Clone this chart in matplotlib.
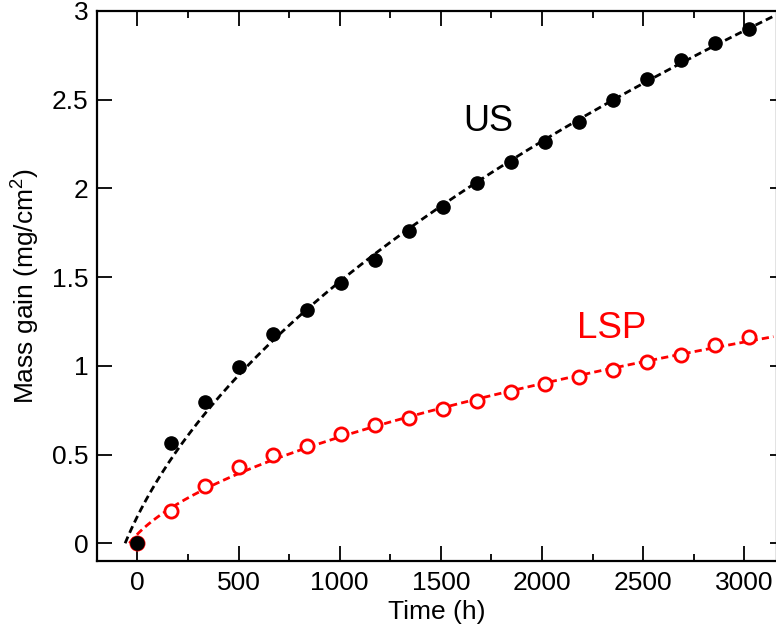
import numpy as np
import matplotlib
matplotlib.use("Agg")
import matplotlib.pyplot as plt
from matplotlib.ticker import MultipleLocator, FuncFormatter

plt.rcParams['font.family'] = ['Liberation Sans', 'DejaVu Sans']
plt.rcParams['mathtext.fontset'] = 'custom'
plt.rcParams['mathtext.rm'] = 'Liberation Sans'
plt.rcParams['mathtext.it'] = 'Liberation Sans:italic'

# ---- data ----
time_h = [0, 168, 336, 504, 672, 840, 1008, 1176, 1344, 1512, 1680,
          1848, 2016, 2184, 2352, 2520, 2688, 2856, 3024]
us_gain = [0.0, 0.564, 0.795, 0.993, 1.179, 1.314, 1.466, 1.596, 1.76, 1.895,
           2.03, 2.149, 2.262, 2.374, 2.499, 2.617, 2.724, 2.82, 2.899]
lsp_gain = [0.0, 0.18, 0.32, 0.43, 0.495, 0.55, 0.615, 0.665, 0.705, 0.755,
            0.80, 0.85, 0.895, 0.935, 0.975, 1.02, 1.06, 1.115, 1.16]
x_ticks = [0, 500, 1000, 1500, 2000, 2500, 3000]
y_ticks = [0, 0.5, 1, 1.5, 2, 2.5, 3]
labels = ["US", "LSP"]

t = np.array(time_h, float)
xlim = (-200, 3162)
ylim = (-0.1, 3.0)

fig = plt.figure(figsize=(7.76, 6.39), dpi=100)
ax = fig.add_axes([97/776, (639-561)/639, (777-97)/776, (561-11)/639])

def fit_curve(y):
    y = np.array(y, float)
    coef = np.polyfit(y, t, 2)  # t = a*y^2 + b*y + c
    yy = np.linspace(0, 3.2, 600)
    tt = np.polyval(coef, yy)
    m = (tt <= xlim[1]) & (tt >= coef[2])
    return tt[m], yy[m]

lw = 2.0
tu, yu = fit_curve(us_gain)
tl, yl = fit_curve(lsp_gain)
ax.plot(tu, yu, color='black', lw=lw, ls=(0, (2.6, 1.5)), zorder=2, clip_on=False)
ax.plot(tl, yl, color='#ff0000', lw=lw, ls=(0, (2.6, 1.5)), zorder=2, clip_on=False)

ax.plot(t, lsp_gain, 'o', ms=9.5, mfc='white', mec='#ff0000', mew=2.0, zorder=3, clip_on=False)
ax.plot(t, us_gain, 'o', ms=9.5, mfc='black', mec='black', mew=1.0, zorder=4, clip_on=False)

ax.text(1733, 2.324, labels[0], fontsize=26, color='black', ha='center', va='baseline')
ax.text(2347, 1.156, labels[1], fontsize=26.5, color='#ff0000', ha='center', va='baseline')

ax.set_xlim(*xlim)
ax.set_ylim(*ylim)
ax.set_xticks(x_ticks)
ax.set_yticks(y_ticks)
ax.xaxis.set_minor_locator(MultipleLocator(250))
ax.yaxis.set_major_formatter(FuncFormatter(lambda v, p: f"{v:g}"))

for s in ax.spines.values():
    s.set_linewidth(1.6)

ax.tick_params(axis='x', which='major', direction='in', length=10.5, width=1.3,
               top=True, bottom=True, labelsize=19, pad=7)
ax.tick_params(axis='x', which='minor', direction='in', length=5, width=1.3,
               top=True, bottom=True)
ax.tick_params(axis='y', which='major', direction='in', length=10.5, width=1.3,
               left=True, right=False, labelsize=19, pad=6)

sec = ax.secondary_yaxis('right')
sec.set_yticks(y_ticks)
sec.tick_params(direction='in', length=5, width=1.3, labelright=False)
sec.spines['right'].set_linewidth(1.6)

ax.set_xlabel("Time (h)", fontsize=19)
ax.set_ylabel("Mass gain (mg/cm$^2$)", fontsize=19)
ax.xaxis.set_label_coords(0.5, (561-600)/550)
ax.yaxis.set_label_coords(-0.081, 0.5)

fig.savefig("out.png", dpi=100)
